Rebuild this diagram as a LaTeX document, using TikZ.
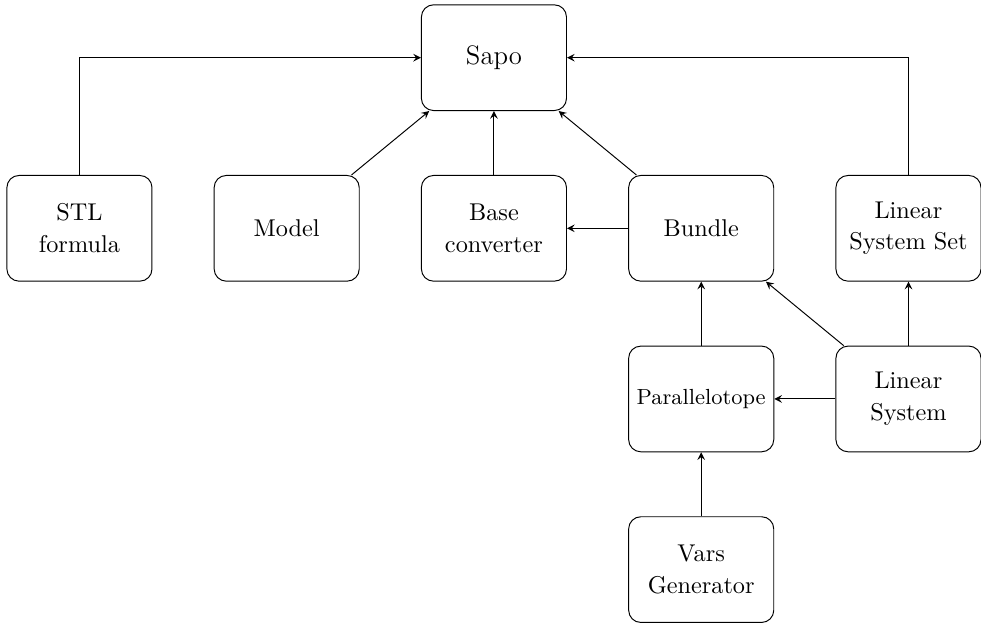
\documentclass[tikz,border=0pt]{standalone}
\usepackage{tikz}
\usetikzlibrary{arrows.meta,positioning,calc}

\begin{document}
\begin{tikzpicture}[>=stealth,
  blk/.style={draw,rounded corners=5pt,minimum width=2.1cm,minimum height=1.53cm,align=center,
    font=\fontsize{10}{13}\selectfont}]
  \useasboundingbox (-7.15,0.835) rectangle (7.05,-8.18);
  \node[blk,font=\fontsize{11}{13}\selectfont] (sapo) at (0,0) {Sapo};
  \node[blk] (stl) at (-6,-2.47) {STL\\formula};
  \node[blk] (model) at (-3,-2.47) {Model};
  \node[blk] (base) at (0,-2.47) {Base\\converter};
  \node[blk] (bundle) at (3,-2.47) {Bundle};
  \node[blk] (lss) at (6,-2.47) {Linear\\System Set};
  \node[blk,font=\small] (par) at (3,-4.94) {Parallelotope};
  \node[blk] (ls) at (6,-4.94) {Linear\\System};
  \node[blk] (vars) at (3,-7.41) {Vars\\Generator};
  % into Sapo
  \draw[->] (stl.north) |- (sapo.west);
  \draw[->] (lss.north) |- (sapo.east);
  \foreach \a in {model,base,bundle}{\draw[->] (\a) -- (sapo);}
  % the rest
  \foreach \a/\b in {bundle/base,ls/bundle,par/bundle,ls/par,ls/lss,vars/par}{\draw[->] (\a) -- (\b);}
\end{tikzpicture}
\end{document}
